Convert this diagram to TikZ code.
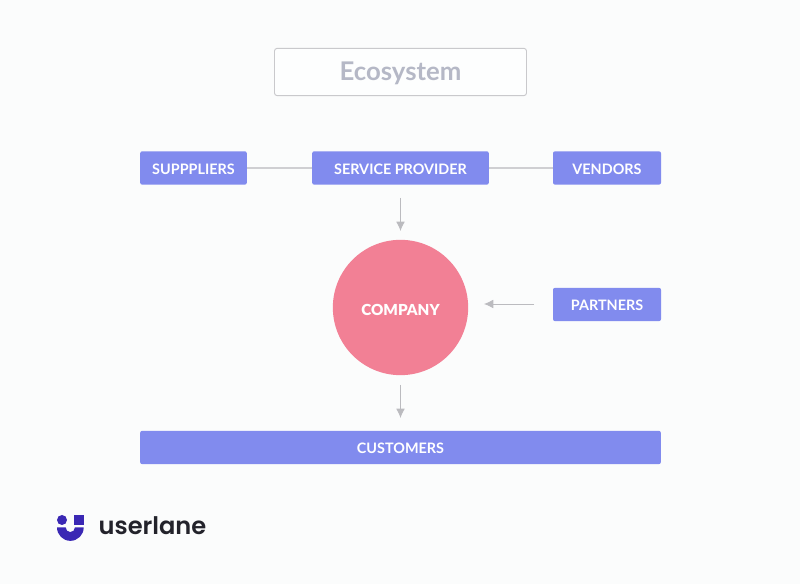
\documentclass[tikz,border=0pt]{standalone}
\usepackage{xcolor}
\usepackage{fontspec}
\setmainfont{Lato}
\newfontfamily\logofont{Poppins SemiBold}
\newfontfamily\companyfont{Lato Black}
\usetikzlibrary{positioning}
\usetikzlibrary{calc}
\usetikzlibrary{arrows.meta}
\definecolor{boxblue}{HTML}{818BEE}
\definecolor{companyred}{HTML}{F28095}
\definecolor{linegray}{HTML}{BBBBBF}
\definecolor{ecotext}{HTML}{B5B8C6}
\definecolor{pagebg}{HTML}{FBFCFC}
\definecolor{logoblue}{HTML}{3A28B4}
\definecolor{logotext}{HTML}{23232B}
\tikzset{
  bluebox/.style={fill=boxblue,text=white,rounded corners=1.5pt,inner sep=0pt,minimum height=25pt,text height=9.6pt,text depth=0pt,font=\fontsize{10.8}{13}\selectfont\bfseries},
  link/.style={draw=linegray!70,line width=1pt},
  flow/.style={draw=linegray,line width=0.6pt,-{Latex[length=7pt,width=6.5pt]}}
}
\begin{document}
\begin{tikzpicture}[x=0.75pt,y=0.75pt]
\useasboundingbox (0,0) rectangle (800,584);
\fill[pagebg] (0,0) rectangle (800,584);
\coordinate (c1) at (400.5,512);
\coordinate (c2) at (193.5,416);
\coordinate (c3) at (400.5,416);
\coordinate (c4) at (607,416);
\coordinate (c5) at (607,279.5);
\coordinate (c6) at (400.5,276.5);
\coordinate (c7) at (400.5,136.5);
\coordinate (a1) at (400.5,386);
\coordinate (a2) at (400.5,353);
\coordinate (a3) at (534,280);
\coordinate (a4) at (484,280);
\coordinate (a5) at (400.5,199);
\coordinate (a6) at (400.5,166);

  \node (ecosystem) at (c1) [draw=linegray!80,fill=white!60!pagebg,rounded corners=2pt,line width=0.7pt,minimum width=189pt,minimum height=35.5pt,inner sep=0pt,text height=15pt,text depth=2pt,text=ecotext,font=\fontsize{19.3}{22}\selectfont\bfseries] {Ecosystem};
  \node (suppliers) at (c2) [bluebox,minimum width=80pt] {SUPPPLIERS};
  \node (provider) at (c3) [bluebox,minimum width=132.5pt] {SERVICE PROVIDER};
  \node (vendors) at (c4) [bluebox,minimum width=81pt] {VENDORS};
  \node (partners) at (c5) [bluebox,minimum width=81pt] {PARTNERS};
  \node (company) at (c6) [circle,fill=companyred,text=white,minimum size=101.5pt,inner sep=0pt,text height=11.5pt,text depth=0pt,font=\companyfont\fontsize{11.4}{15}\selectfont] {COMPANY};
  \node (customers) at (c7) [bluebox,minimum width=390.5pt] {CUSTOMERS};

  \draw[link] (suppliers) to[] (provider);
  \draw[link] (provider) to[] (vendors);
  \draw[flow] (a1) to[] (a2);
  \draw[flow] (a3) to[] (a4);
  \draw[flow] (a5) to[] (a6);

  % logo
  \fill[logoblue] (62,64) circle (5);
  \fill[logoblue] (73.7,59) rectangle (83.7,69);
  \fill[logoblue] (57,56.5) -- (65.7,56.5) arc (180:360:4.6) -- (83.7,56.5) arc (0:-180:13.35) -- cycle;
  \node (logo) at (152.5,58) [text=logotext,inner sep=0pt,font=\logofont\fontsize{18.1}{22}\selectfont] {userlane};
\end{tikzpicture}
\end{document}
